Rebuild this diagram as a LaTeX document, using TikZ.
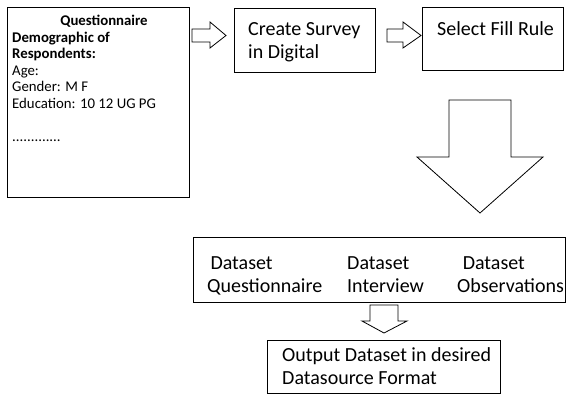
\documentclass[tikz,border=0pt]{standalone}
\usepackage{fontspec}
\setmainfont{Carlito}
\usetikzlibrary{positioning}

\tikzset{
  box/.style={draw, line width=0.9pt, inner sep=0pt},
  bigtext/.style={font=\fontsize{20}{23}\selectfont, align=left, inner sep=0pt, anchor=base west},
  smalltext/.style={font=\fontsize{14.8}{16.6}\selectfont, align=left, inner sep=0pt, anchor=base west},
  blockarrow/.style={draw, line width=0.8pt, line join=miter, fill=white}
}

\begin{document}
\begin{tikzpicture}[x=1pt, y=-1pt]
\useasboundingbox (0,0) rectangle (567,396);

% boxes
\node[box, minimum width=182pt, minimum height=190pt] (quest) at (98,102) {};
\node[box, minimum width=141pt, minimum height=64pt] (survey) at (304.5,40) {};
\node[box, minimum width=141pt, minimum height=63pt] (fill) at (492.5,38.5) {};
\node[box, minimum width=372pt, minimum height=65pt] (data) at (379,269.5) {};
\node[box, minimum width=233pt, minimum height=53pt] (output) at (383.5,366.5) {};

% questionnaire text (base = last line)
\node[smalltext, anchor=base, font=\fontsize{14.8}{16.6}\selectfont\bfseries] (qtitle) at (104,25.5) {Questionnaire};
\node[smalltext] (qbody) at (12,141.6) {\textbf{Demographic of}\\\textbf{Respondents:}\\Age:\\Gender: M F\\Education: 10 12 UG PG\\[16.6pt].............};

% step texts
\node[bigtext] (tsurvey) at (248,59) {Create Survey\\in Digital};
\node[bigtext] (tfill) at (437,36) {Select Fill Rule};
\node[bigtext] (tq) at (207,292) {\,Dataset\\Questionnaire};
\node[bigtext] (ti) at (347,292) {Dataset\\Interview};
\node[bigtext] (to) at (457,292) {\;Dataset\\Observations};
\node[bigtext] (tout) at (282,384) {Output Dataset in desired\\Datasource Format};

% block arrows
\draw[blockarrow] (192,29) -- (210,29) -- (210,22) -- (226,35.5) -- (210,48) -- (210,42) -- (192,42) -- cycle;
\draw[blockarrow] (387,29) -- (403,29) -- (403,22) -- (421,35.5) -- (403,48) -- (403,42) -- (387,42) -- cycle;
\draw[blockarrow] (449,100) -- (511,100) -- (511,157) -- (543,157) -- (480,213) -- (417,157) -- (449,157) -- cycle;
\draw[blockarrow] (370,305) -- (398,305) -- (398,321) -- (407,321) -- (384,333) -- (362,321) -- (370,321) -- cycle;
\end{tikzpicture}
\end{document}
